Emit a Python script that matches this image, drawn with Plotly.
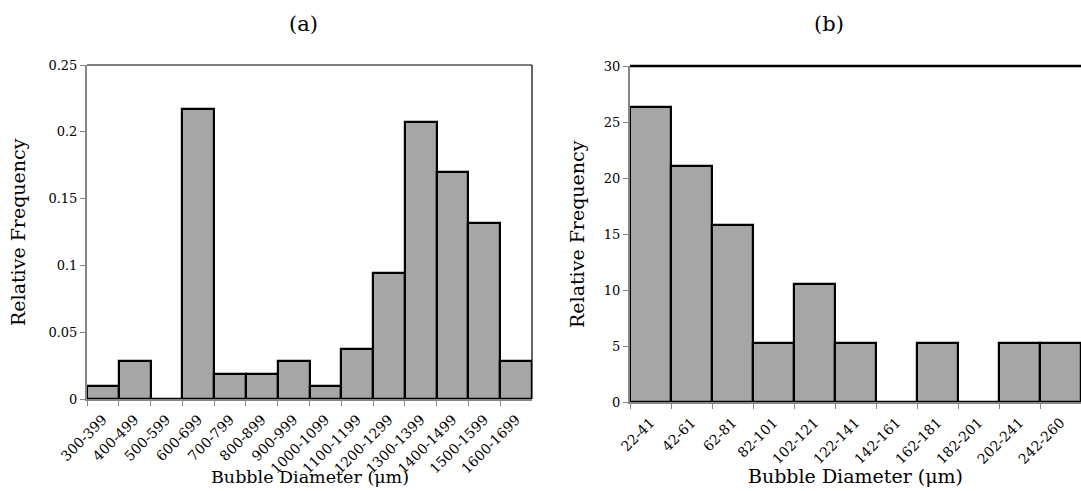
import plotly.graph_objects as go

cats_a = ["300-399", "400-499", "500-599", "600-699", "700-799", "800-899", "900-999",
          "1000-1099", "1100-1199", "1200-1299", "1300-1399", "1400-1499", "1500-1599", "1600-1699"]
vals_a = [0.0094, 0.0283, 0.0, 0.217, 0.0189, 0.0189, 0.0283, 0.0094, 0.0377, 0.0943,
          0.2075, 0.1698, 0.132, 0.0283]

cats_b = ["22-41", "42-61", "62-81", "82-101", "102-121", "122-141", "142-161",
          "162-181", "182-201", "202-241", "242-260"]
vals_b = [26.32, 21.05, 15.79, 5.26, 10.53, 5.26, 0.0, 5.26, 0.0, 5.26, 5.26]

FONT = "DejaVu Serif"
BAR_FILL = "#A6A6A6"
AX_GRAY = "#868686"

fig = go.Figure()
fig.add_trace(go.Bar(x=cats_a, y=vals_a, marker=dict(color=BAR_FILL, line=dict(color="black", width=2.2)),
                     xaxis="x", yaxis="y", showlegend=False))
fig.add_trace(go.Bar(x=cats_b, y=vals_b, marker=dict(color=BAR_FILL, line=dict(color="black", width=2.2)),
                     xaxis="x2", yaxis="y2", showlegend=False))

W, H = 1081, 491
xa = [87 / W, 532 / W]
ya = [1 - 399 / H, 1 - 65 / H]
xb = [630 / W, 1.0]
yb = [1 - 402 / H, 1 - 66 / H]

def xax(size, domain, anchor):
    return dict(type="category", domain=domain, anchor=anchor, automargin=False,
                showline=True, linecolor=AX_GRAY, linewidth=2, ticks="outside",
                tickson="boundaries", ticklen=5, tickcolor=AX_GRAY, tickangle=-45,
                ticklabelstandoff=5,
                tickfont=dict(family=FONT, size=size, color="black"), showgrid=False,
                zeroline=False, fixedrange=True)

def yax(domain, anchor, rng, tv, tt):
    return dict(domain=domain, anchor=anchor, automargin=False, range=rng, tickvals=tv, ticktext=tt,
                showline=True, linecolor=AX_GRAY, linewidth=2, ticks="outside", ticklen=5,
                tickcolor=AX_GRAY, tickfont=dict(family=FONT, size=13, color="black"),
                showgrid=False, zeroline=False)

def ann(text, x, y, size, angle=0):
    return dict(text=text, x=x / W, y=1 - y / H, xref="paper", yref="paper", showarrow=False,
                xanchor="center", yanchor="middle", textangle=angle,
                font=dict(family=FONT, size=size, color="black"))

fig.update_layout(
    width=W, height=H,
    margin=dict(l=0, r=0, t=0, b=0),
    paper_bgcolor="white", plot_bgcolor="white",
    bargap=0,
    xaxis=xax(14, xa, "y"),
    yaxis=yax(ya, "x", [0, 0.25], [0, 0.05, 0.1, 0.15, 0.2, 0.25],
              ["0", "0.05", "0.1", "0.15", "0.2", "0.25"]),
    xaxis2=xax(14, xb, "y2"),
    yaxis2=yax(yb, "x2", [0, 30], [0, 5, 10, 15, 20, 25, 30],
               ["0", "5", "10", "15", "20", "25", "30"]),
    shapes=[
        dict(type="line", xref="x domain", yref="y domain", x0=0, x1=1, y0=1, y1=1,
             line=dict(color="black", width=1.2)),
        dict(type="line", xref="x domain", yref="y domain", x0=1, x1=1, y0=0, y1=1,
             line=dict(color="black", width=1.2)),
        dict(type="line", xref="x2 domain", yref="y2 domain", x0=0, x1=1, y0=1, y1=1,
             line=dict(color="black", width=2.5)),
    ],
    annotations=[
        ann("(a)", 303, 24, 21),
        ann("(b)", 829, 24, 21),
        ann("Relative Frequency", 18, 232, 19, -90),
        ann("Relative Frequency", 577, 234, 19, -90),
        ann("Bubble Diameter (μm)", 310, 477, 17.5),
        ann("Bubble Diameter (μm)", 855, 476, 19),
    ],
)

fig.write_html("out.html", config={"displayModeBar": False},
               post_script="document.body.style.margin='0px';")
